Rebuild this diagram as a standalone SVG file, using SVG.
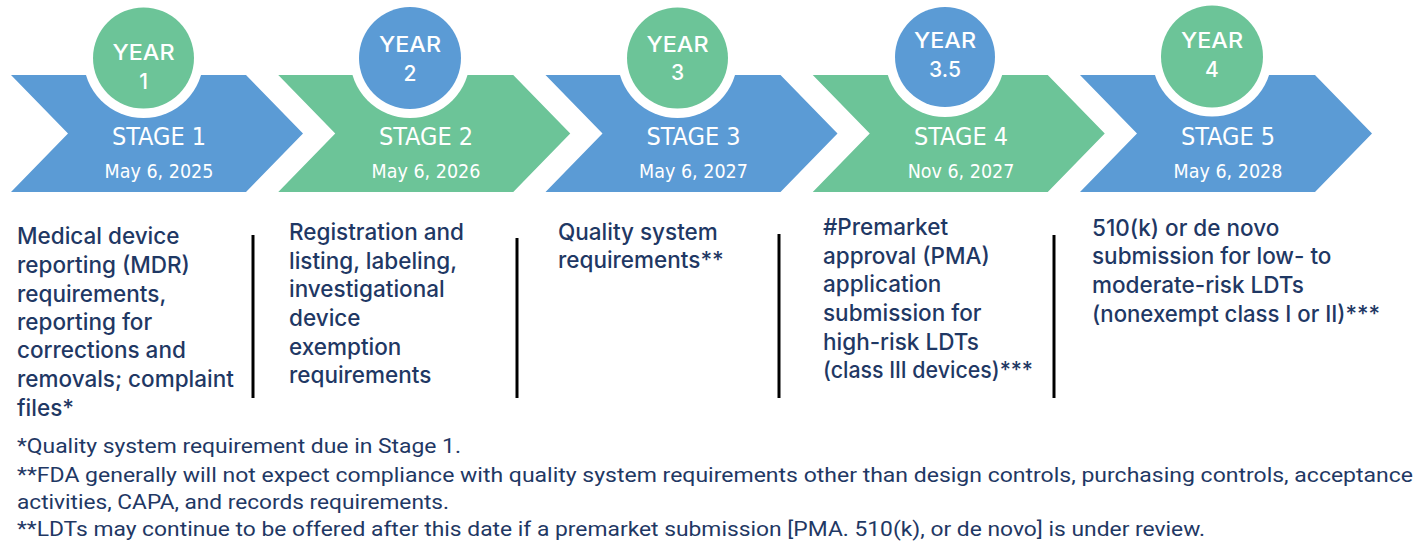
<svg xmlns="http://www.w3.org/2000/svg" width="1426" height="550" viewBox="0 0 1426 550">
<style>
.blue{fill:#5B9BD5}
.green{fill:#6CC498}
.ring{fill:#FFFFFF}
.year{font-family:Inter,"Noto Sans",sans-serif;font-weight:500;font-size:21px;fill:#FFFFFF;text-anchor:middle}
.stage{font-family:"DejaVu Sans Condensed","DejaVu Sans",sans-serif;font-stretch:condensed;font-size:25px;fill:#FFFFFF;text-anchor:middle}
.date{font-family:"DejaVu Sans Condensed","DejaVu Sans",sans-serif;font-stretch:condensed;font-size:19.5px;fill:#FFFFFF;text-anchor:middle}
.desc{font-family:Inter,"Noto Sans",sans-serif;font-weight:500;font-size:22.5px;fill:#1F3864}
.note{font-family:Roboto,"Liberation Sans",sans-serif;font-size:20px;fill:#1F3864}
.div{stroke:#000000;stroke-width:3}
</style>
<rect width="1426" height="550" fill="#FFFFFF"/>

<g id="stage1">
<polygon class="blue" points="11,75 246,75 303,133.5 246,192 11,192 68,133.5"/>
<circle class="ring" cx="143.5" cy="58" r="60"/>
<circle class="green" cx="143.5" cy="58" r="50.5"/>
<text class="year" x="143.5" y="60" textLength="62" lengthAdjust="spacingAndGlyphs">YEAR</text>
<text class="year" x="143.5" y="89">1</text>
<text class="stage" x="159" y="145">STAGE 1</text>
<text class="date" x="159" y="178">May 6, 2025</text>
</g>

<g id="stage2">
<polygon class="green" points="278.25,75 513.25,75 570.25,133.5 513.25,192 278.25,192 335.25,133.5"/>
<circle class="ring" cx="410" cy="58" r="60"/>
<circle class="blue" cx="410" cy="58" r="51"/>
<text class="year" x="410" y="52" textLength="62" lengthAdjust="spacingAndGlyphs">YEAR</text>
<text class="year" x="410" y="81">2</text>
<text class="stage" x="426" y="145">STAGE 2</text>
<text class="date" x="426" y="178">May 6, 2026</text>
</g>

<g id="stage3">
<polygon class="blue" points="545.5,75 780.5,75 837.5,133.5 780.5,192 545.5,192 602.5,133.5"/>
<circle class="ring" cx="677.5" cy="58" r="60"/>
<circle class="green" cx="677.5" cy="58" r="50.5"/>
<text class="year" x="677.5" y="52" textLength="62" lengthAdjust="spacingAndGlyphs">YEAR</text>
<text class="year" x="677.5" y="80">3</text>
<text class="stage" x="693.5" y="145">STAGE 3</text>
<text class="date" x="693.5" y="178">May 6, 2027</text>
</g>

<g id="stage4">
<polygon class="green" points="812.75,75 1047.75,75 1104.75,133.5 1047.75,192 812.75,192 869.75,133.5"/>
<circle class="ring" cx="945" cy="57" r="60"/>
<circle class="blue" cx="945" cy="57" r="50"/>
<text class="year" x="945" y="48" textLength="62" lengthAdjust="spacingAndGlyphs">YEAR</text>
<text class="year" x="945" y="77">3.5</text>
<text class="stage" x="961" y="145">STAGE 4</text>
<text class="date" x="961" y="178">Nov 6, 2027</text>
</g>

<g id="stage5">
<polygon class="blue" points="1080,75 1315,75 1372,133.5 1315,192 1080,192 1137,133.5"/>
<circle class="ring" cx="1212" cy="56.5" r="60"/>
<circle class="green" cx="1212" cy="56.5" r="51"/>
<text class="year" x="1212" y="48" textLength="62" lengthAdjust="spacingAndGlyphs">YEAR</text>
<text class="year" x="1212" y="77">4</text>
<text class="stage" x="1228" y="145">STAGE 5</text>
<text class="date" x="1228" y="178">May 6, 2028</text>
</g>

<g id="desc1">
<text class="desc" x="17" y="244">Medical device</text>
<text class="desc" x="17" y="273">reporting (MDR)</text>
<text class="desc" x="17" y="302">requirements,</text>
<text class="desc" x="17" y="330">reporting for</text>
<text class="desc" x="17" y="358">corrections and</text>
<text class="desc" x="17" y="387">removals; complaint</text>
<text class="desc" x="17" y="416">files*</text>
</g>

<g id="desc2">
<text class="desc" x="289" y="240">Registration and</text>
<text class="desc" x="289" y="269">listing, labeling,</text>
<text class="desc" x="289" y="297">investigational</text>
<text class="desc" x="289" y="326">device</text>
<text class="desc" x="289" y="355">exemption</text>
<text class="desc" x="289" y="383">requirements</text>
</g>

<g id="desc3">
<text class="desc" x="558" y="240">Quality system</text>
<text class="desc" x="558" y="268">requirements**</text>
</g>

<g id="desc4">
<text class="desc" x="823" y="235">#Premarket</text>
<text class="desc" x="823" y="264">approval (PMA)</text>
<text class="desc" x="823" y="292">application</text>
<text class="desc" x="823" y="321">submission for</text>
<text class="desc" x="823" y="350">high-risk LDTs</text>
<text class="desc" x="823" y="378" textLength="210" lengthAdjust="spacingAndGlyphs">(class III devices)***</text>
</g>

<g id="desc5">
<text class="desc" x="1092" y="236">510(k) or de novo</text>
<text class="desc" x="1092" y="264">submission for low- to</text>
<text class="desc" x="1092" y="293">moderate-risk LDTs</text>
<text class="desc" x="1092" y="322" textLength="288" lengthAdjust="spacingAndGlyphs">(nonexempt class I or II)***</text>
</g>

<g id="dividers">
<line class="div" x1="253" y1="235" x2="253" y2="398"/>
<line class="div" x1="517" y1="238" x2="517" y2="398"/>
<line class="div" x1="779" y1="234" x2="779" y2="398"/>
<line class="div" x1="1054" y1="235" x2="1054" y2="398"/>
</g>

<g id="footnotes">
<text class="note" x="17" y="453" textLength="444" lengthAdjust="spacingAndGlyphs">*Quality system requirement due in Stage 1.</text>
<text class="note" x="17" y="482" textLength="1396" lengthAdjust="spacingAndGlyphs">**FDA generally will not expect compliance with quality system requirements other than design controls, purchasing controls, acceptance</text>
<text class="note" x="17" y="509" textLength="432" lengthAdjust="spacingAndGlyphs">activities, CAPA, and records requirements.</text>
<text class="note" x="17" y="536" textLength="1188" lengthAdjust="spacingAndGlyphs">**LDTs may continue to be offered after this date if a premarket submission [PMA. 510(k), or de novo] is under review.</text>
</g>
</svg>
